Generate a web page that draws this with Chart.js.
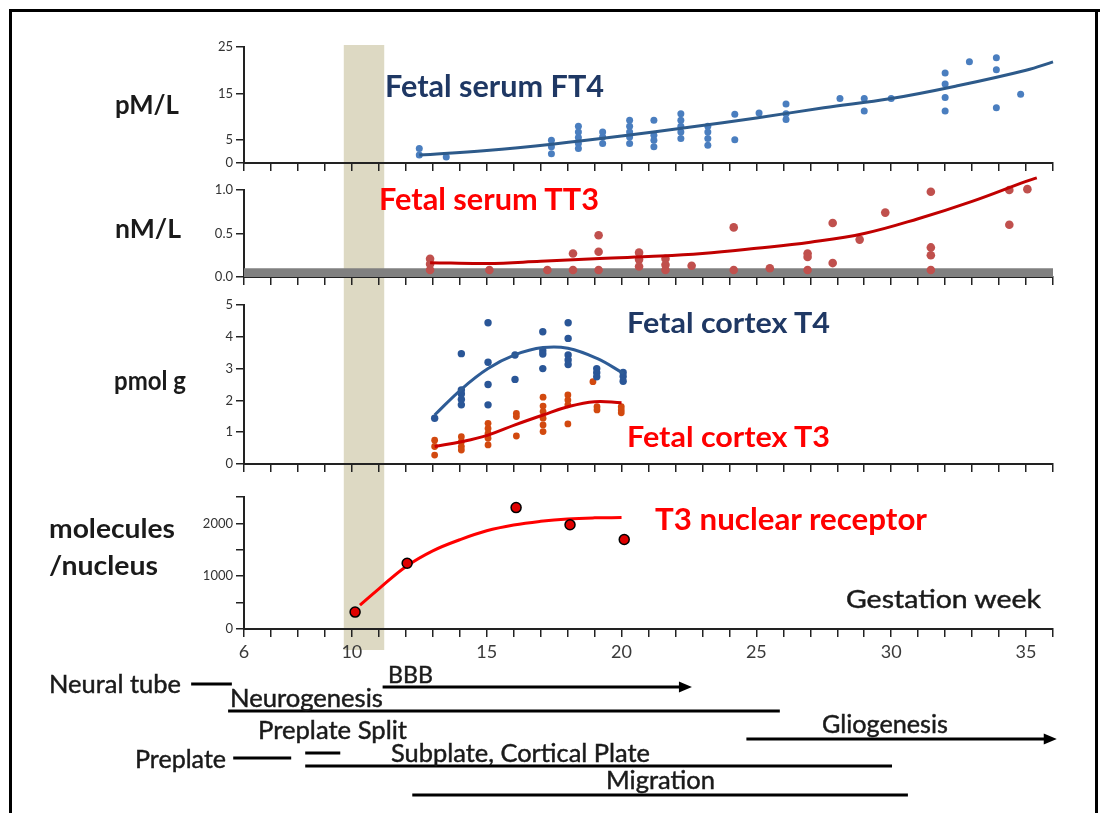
<!DOCTYPE html>
<html><head><meta charset="utf-8">
<script src="https://cdn.jsdelivr.net/npm/chart.js@4.4.1/dist/chart.umd.min.js"></script>
<style>
html,body{margin:0;padding:0;background:#fff;}
body{width:1100px;height:813px;position:relative;overflow:hidden;font-family:Lato,"Open Sans",sans-serif;}
canvas{position:absolute;left:0;}
.lbl{position:absolute;white-space:nowrap;line-height:1;font-family:Lato,"Open Sans",sans-serif;transform-origin:0 0;}
.fr{position:absolute;background:#000;}
</style></head><body>
<div class="fr" style="left:9px;top:9px;width:1091px;height:3px"></div>
<div class="fr" style="left:9px;top:9px;width:3px;height:804px"></div>
<div class="fr" style="left:1095px;top:9px;width:3px;height:804px"></div>
<canvas id="cA" width="1100" height="150" style="top:30px"></canvas>
<canvas id="cB" width="1100" height="126" style="top:166px"></canvas>
<canvas id="cC" width="1100" height="190" style="top:292px"></canvas>
<canvas id="cD" width="1100" height="331" style="top:482px"></canvas>
<script>
// ---------------- DATA ----------------
const weekRange = [6, 36];
const xTickLabels = [6, 10, 15, 20, 25, 30, 35];
const highlightWeeks = [9.7, 11.2];

// Fetal serum FT4 (pM/L)
const ft4Ticks = [0, 5, 15, 25];
const ft4Points = [
  [12.5,3.1],[12.5,1.7],[13.5,1.3],
  [17.4,4.9],[17.4,3.5],[17.4,2.0],
  [18.4,7.9],[18.4,6.7],[18.4,5.5],[18.4,4.2],[18.4,3.1],
  [19.3,6.7],[19.3,5.6],[19.3,4.2],
  [20.3,9.2],[20.3,7.9],[20.3,6.7],[20.3,5.6],[20.3,4.2],
  [21.2,9.2],[21.2,6.0],[21.2,4.9],[21.2,3.5],
  [22.2,10.6],[22.2,9.2],[22.2,7.9],[22.2,6.7],[22.2,5.3],
  [23.2,7.9],[23.2,6.7],[23.2,5.3],[23.2,3.8],
  [24.2,10.5],[24.2,5.0],
  [25.1,10.8],
  [26.1,12.7],[26.1,10.6],[26.1,9.4],
  [28.1,13.9],
  [29.0,13.9],[29.0,11.2],
  [30.0,13.9],
  [32.0,19.4],[32.0,17.0],[32.0,14.1],[32.0,11.2],
  [32.9,21.8],
  [33.9,22.7],[33.9,20.1],[33.9,11.9],
  [34.8,14.8]
];
const ft4Fit = [[12.5,1.7],[15,2.7],[17.5,4.1],[20,5.8],[22.5,7.7],[25,9.7],[27.5,11.9],[30,13.9],[32.5,16.7],[35,20.0],[36,21.8]];

// Fetal serum TT3 (nM/L)
const tt3Ticks = [0, 0.5, 1.0];
const tt3Reference = [0, 0.1];
const tt3Points = [
  [12.9,0.21],[12.9,0.15],[12.9,0.08],
  [15.1,0.08],
  [17.25,0.08],
  [18.2,0.27],[18.2,0.08],
  [19.15,0.48],[19.15,0.29],[19.15,0.08],
  [20.65,0.28],[20.65,0.2],[20.65,0.12],
  [21.63,0.21],[21.63,0.14],[21.63,0.08],
  [22.6,0.13],
  [24.16,0.57],[24.16,0.08],
  [25.5,0.1],
  [26.9,0.27],[26.9,0.23],[26.9,0.08],
  [27.83,0.62],[27.83,0.16],
  [28.83,0.43],
  [29.78,0.74],
  [31.47,0.98],[31.47,0.34],[31.47,0.25],[31.47,0.08],
  [34.38,1.0],[34.38,0.6],
  [35.05,1.01],
  [35.37,1.14]
];
const tt3Fit = [[12.9,0.165],[15,0.155],[17,0.18],[19,0.21],[21,0.235],[23,0.27],[25,0.33],[27,0.4],[29,0.5],[31,0.67],[33,0.87],[35,1.1],[35.4,1.14]];

// Fetal cortex T4 / T3 (pmol g)
const cortexTicks = [0, 1, 2, 3, 4, 5];
const cortexT4Points = [
  [13.07,1.44],
  [14.06,3.47],[14.06,2.33],[14.06,2.2],[14.06,2.03],[14.06,1.86],
  [15.05,4.44],[15.05,3.2],[15.05,2.5],[15.05,1.86],
  [16.05,3.43],[16.05,2.66],
  [17.08,4.16],[17.08,3.56],[17.08,3.46],[17.08,3.0],
  [18.02,4.44],[18.02,3.95],[18.02,3.43],[18.02,3.27],[18.02,3.13],
  [19.08,3.0],[19.08,2.87],[19.08,2.74],
  [20.06,2.88],[20.06,2.75],[20.06,2.6]
];
const cortexT4Fit = [[13.07,1.54],[14.06,2.35],[15.05,3.0],[16.04,3.43],[17.09,3.66],[18.01,3.64],[19.09,3.32],[20.07,2.85]];
const cortexT3Points = [
  [13.07,0.75],[13.07,0.55],[13.07,0.28],
  [14.06,0.86],[14.06,0.7],[14.06,0.55],[14.06,0.44],
  [15.05,1.28],[15.05,1.12],[15.05,0.96],[15.05,0.81],[15.05,0.6],
  [16.1,1.59],[16.1,1.49],[16.1,0.88],
  [17.09,2.1],[17.09,1.82],[17.09,1.65],[17.09,1.44],[17.09,1.23],[17.09,1.02],
  [18.01,2.17],[18.01,2.01],[18.01,1.86],[18.01,1.26],
  [18.94,2.59],
  [19.09,1.8],[19.09,1.7],
  [19.99,1.8],[19.99,1.7],[19.99,1.61]
];
const cortexT3Fit = [[13.07,0.55],[14.06,0.7],[15.05,0.91],[16.05,1.23],[17.09,1.54],[18.01,1.8],[19.0,1.96],[20.0,1.93]];

// T3 nuclear receptor (molecules/nucleus)
const receptorTicks = [0, 500, 1000, 1500, 2000, 2500];
const receptorTickLabels = [0, 1000, 2000];
const receptorPoints = [[10.12,320],[12.05,1245],[16.09,2300],[18.09,1975],[20.1,1695]];
const receptorFit = [[10.3,450],[11,760],[12,1180],[13,1480],[14,1690],[15,1860],[16,1970],[17,2040],[18,2085],[19,2105],[20,2110]];

// Developmental timeline (weeks)
const timelineNames = ['Neural tube','BBB','Neurogenesis','Gliogenesis','Preplate','Preplate Split','Subplate, Cortical Plate','Migration'];
const timelineStart = [4.04, 11.14, 5.41, 24.63, 5.6, 8.27, 8.27, 12.24];
const timelineEnd   = [5.55, 22.61, 25.87, 36.14, 7.75, 9.57, 30.03, 30.62];
const timelineArrow = [false, true, false, true, false, false, false, false];

// ---------------- LAYOUT ----------------
const PLOT_LEFT = 244, PLOT_RIGHT_PAD = 47;
const BAND_COLOR = '#ddd9c3';
const PANELS = {
  cA: {top:30,  height:150, areaTop:47,  areaBottom:163, seg:[45,176],  xH:10},
  cB: {top:166, height:126, areaTop:190, areaBottom:277, seg:[176,292], xH:10},
  cC: {top:292, height:190, areaTop:305, areaBottom:464, seg:[292,482], xH:10},
  cD: {top:482, height:331, areaTop:497, areaBottom:629, seg:[482,650], xH:30}
};
const TIMELINE_Y = [684, 687, 711, 739, 758, 753, 766, 795];

const toXY = arr => arr.map(p => ({x:p[0], y:p[1]}));

const bandPlugin = {
  id: 'band',
  beforeDraw(chart) {
    const P = PANELS[chart.canvas.id];
    const xs = chart.scales.x, ctx = chart.ctx;
    const x1 = xs.getPixelForValue(highlightWeeks[0]);
    const x2 = xs.getPixelForValue(highlightWeeks[1]);
    ctx.save();
    ctx.fillStyle = BAND_COLOR;
    ctx.fillRect(x1, P.seg[0] - P.top, x2 - x1, P.seg[1] - P.seg[0]);
    ctx.restore();
  }
};

const timelinePlugin = {
  id: 'timeline',
  afterDraw(chart) {
    if (chart.canvas.id !== 'cD') return;
    const P = PANELS.cD, xs = chart.scales.x, ctx = chart.ctx;
    ctx.save();
    ctx.strokeStyle = '#000'; ctx.fillStyle = '#000'; ctx.lineWidth = 3;
    timelineNames.forEach((n, i) => {
      const x1 = xs.getPixelForValue(timelineStart[i]);
      const x2 = xs.getPixelForValue(timelineEnd[i]);
      const y = TIMELINE_Y[i] - P.top;
      ctx.beginPath();
      ctx.moveTo(x1, y);
      ctx.lineTo(timelineArrow[i] ? x2 - 10 : x2, y);
      ctx.stroke();
      if (timelineArrow[i]) {
        ctx.beginPath();
        ctx.moveTo(x2, y);
        ctx.lineTo(x2 - 13, y - 5.5);
        ctx.lineTo(x2 - 13, y + 5.5);
        ctx.closePath();
        ctx.fill();
      }
    });
    ctx.restore();
  }
};

function xScale(showLabels, xH) {
  return {
    type: 'linear', min: weekRange[0], max: weekRange[1],
    ticks: { stepSize: 1, autoSkip: false, maxRotation: 0, padding: 4,
      font: {family: 'Lato', size: 18}, color: '#3a3a3a',
      callback: v => (showLabels && xTickLabels.includes(v)) ? String(v) : '' },
    grid: { drawOnChartArea: false, drawTicks: true, tickLength: 8, color: '#222', lineWidth: 1.5 },
    border: { color: '#222', width: 2 },
    afterFit: s => { s.height = xH; }
  };
}
function yScale(min, max, ticks, labelFn) {
  return {
    type: 'linear', min, max,
    afterBuildTicks: s => { s.ticks = ticks.map(v => ({value: v})); },
    ticks: { padding: 3, font: {family: 'Lato', size: 13}, color: '#333', callback: labelFn },
    grid: { drawOnChartArea: false, drawTicks: true, tickLength: 8, color: '#222', lineWidth: 1.5 },
    border: { color: '#222', width: 2 },
    afterFit: s => { s.width = PLOT_LEFT; }
  };
}
function dots(data, color, r, extra) {
  return Object.assign({ type: 'scatter', data: toXY(data), backgroundColor: color, borderColor: color,
    borderWidth: 0, pointRadius: r, pointHoverRadius: r, order: 2, clip: false }, extra || {});
}
function fit(data, color, w) {
  return { type: 'line', data: toXY(data), borderColor: color, borderWidth: w, pointRadius: 0,
    tension: 0.4, fill: false, order: 1, clip: false };
}
function makeChart(id, datasets, y, showLabels) {
  const P = PANELS[id];
  return new Chart(document.getElementById(id), {
    type: 'scatter',
    data: { datasets },
    options: {
      responsive: false, animation: false, events: [],
      layout: { padding: { left: 0, right: PLOT_RIGHT_PAD, top: P.areaTop - P.top,
        bottom: P.top + P.height - P.areaBottom - P.xH } },
      plugins: { legend: {display: false}, tooltip: {enabled: false} },
      scales: { x: xScale(showLabels, P.xH), y }
    },
    plugins: [bandPlugin, timelinePlugin]
  });
}

makeChart('cA', [
  fit(ft4Fit, '#2d5a8a', 3),
  dots(ft4Points, '#4a7ebf', 3.5)
], yScale(0, 25, ft4Ticks, v => String(v)), false);

makeChart('cB', [
  fit(tt3Fit, '#c00000', 3),
  dots(tt3Points, '#c0504d', 4.3),
  { type: 'line', data: [{x: weekRange[0], y: tt3Reference[1]}, {x: weekRange[1], y: tt3Reference[1]}],
    borderWidth: 0, pointRadius: 0, fill: {value: tt3Reference[0]}, backgroundColor: '#808080', order: 5 }
], yScale(0, 1, tt3Ticks, v => v.toFixed(1)), false);

makeChart('cC', [
  fit(cortexT4Fit, '#2e5c96', 3),
  fit(cortexT3Fit, '#cc0000', 3),
  dots(cortexT4Points, '#2a5697', 3.7),
  dots(cortexT3Points, '#d2490f', 3.4)
], yScale(0, 5, cortexTicks, v => String(v)), false);

makeChart('cD', [
  fit(receptorFit, '#ff0000', 3),
  dots(receptorPoints, '#e00000', 5, {borderColor: '#000', borderWidth: 1.5, order: 0})
], yScale(0, 2500, receptorTicks, v => receptorTickLabels.includes(v) ? String(v) : ''), true);

// ---------------- TEXT ----------------
const NAVY = '#1f3864', RED = '#ff0000', INK = '#1a1a1a';
// x: left edge, base: baseline, w: target width, fs: font size
const TEXTS = [
  {t:'pM/L', x:115, base:114, w:64, fs:26, c:INK, wt:'bold'},
  {t:'nM/L', x:115, base:238, w:66, fs:26, c:INK, wt:'bold'},
  {t:'pmol g', x:114, base:390, w:72, fs:26, c:INK, wt:'bold'},
  {t:'molecules', x:49, base:538, w:126, fs:26, c:INK, wt:'bold'},
  {t:'/nucleus', x:49, base:575, w:109, fs:26, c:INK, wt:'bold'},
  {t:'Fetal serum FT4', x:385, base:97, w:219, fs:31, c:NAVY, wt:'bold'},
  {t:'Fetal serum TT3', x:379, base:210, w:220, fs:30.5, c:RED, wt:'bold'},
  {t:'Fetal cortex T4', x:627, base:333, w:203, fs:28.5, c:NAVY, wt:'bold'},
  {t:'Fetal cortex T3', x:627, base:447, w:203, fs:28.5, c:RED, wt:'bold'},
  {t:'T3 nuclear receptor', x:655, base:530, w:272, fs:30, c:RED, wt:'bold'},
  {t:'Gestation week', x:846, base:608, w:195, fs:25.5, c:INK, wt:'normal'},
  {t:'Neural tube', x:49, base:693, w:132, fs:25, c:INK, wt:'normal'},
  {t:'BBB', x:388, base:683, w:45, fs:24, c:INK, wt:'normal'},
  {t:'Neurogenesis', x:230, base:707, w:153, fs:25, c:INK, wt:'normal'},
  {t:'Preplate Split', x:258, base:739, w:149, fs:25, c:INK, wt:'normal'},
  {t:'Preplate', x:135, base:768, w:91, fs:25, c:INK, wt:'normal'},
  {t:'Subplate, Cortical Plate', x:391, base:762, w:259, fs:25, c:INK, wt:'normal'},
  {t:'Gliogenesis', x:822, base:733, w:126, fs:25, c:INK, wt:'normal'},
  {t:'Migration', x:606, base:789, w:109, fs:25, c:INK, wt:'normal'}
];
TEXTS.forEach(s => {
  const d = document.createElement('div');
  d.className = 'lbl';
  d.style.fontWeight = s.wt; d.style.color = s.c; d.style.left = s.x + 'px'; d.style.top = '0px';
  d.style.fontSize = s.fs + 'px';
  if (s.wt === 'normal') d.style.webkitTextStroke = '0.45px ' + s.c;
  d.textContent = s.t;
  document.body.appendChild(d);
  const natural = d.getBoundingClientRect().width;
  const sx = Math.max(0.8, Math.min(1.2, s.w / natural));
  const m = document.createElement('span');
  m.style.cssText = 'display:inline-block;width:0;height:0;vertical-align:baseline;';
  d.appendChild(m);
  const base = m.getBoundingClientRect().top - d.getBoundingClientRect().top;
  d.style.top = (s.base - base) + 'px';
  d.style.transform = 'scaleX(' + sx.toFixed(3) + ')';
});
</script>
</body></html>
